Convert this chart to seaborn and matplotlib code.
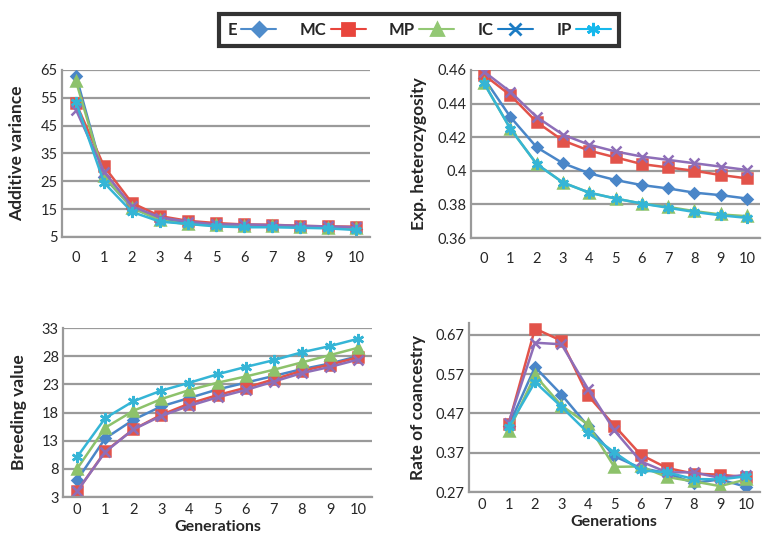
import numpy as np
import pandas as pd
import seaborn as sns
import matplotlib.pyplot as plt
from matplotlib.lines import Line2D
from matplotlib.ticker import FixedLocator, FormatStrFormatter

# --- data ---
generations = list(range(11))
series = ["E", "MC", "MP", "IC", "IP"]

add_var = {
    "E":  [63.0, 26.5, 15.5, 11.2, 10.0, 9.2, 9.0, 8.8, 8.6, 8.4, 8.0],
    "MC": [53.0, 30.4, 17.2, 12.5, 10.8, 10.0, 9.5, 9.4, 9.0, 8.8, 8.7],
    "MP": [61.0, 26.8, 15.5, 11.0, 9.5, 9.2, 9.0, 8.8, 8.6, 8.4, 8.2],
    "IC": [50.7, 28.5, 16.0, 12.0, 10.5, 9.5, 9.5, 9.3, 9.0, 8.8, 8.5],
    "IP": [53.5, 24.5, 14.0, 10.5, 9.7, 8.8, 8.5, 8.5, 8.3, 8.1, 7.5],
}

exp_het = {
    "E":  [0.455, 0.432, 0.414, 0.4045, 0.3985, 0.3945, 0.3915, 0.3895, 0.387, 0.3855, 0.3835],
    "MC": [0.457, 0.445, 0.429, 0.418, 0.412, 0.408, 0.404, 0.402, 0.400, 0.3975, 0.3955],
    "MP": [0.452, 0.425, 0.404, 0.393, 0.387, 0.3835, 0.3805, 0.3785, 0.376, 0.374, 0.373],
    "IC": [0.459, 0.447, 0.432, 0.4215, 0.4155, 0.4115, 0.4085, 0.4065, 0.4045, 0.4025, 0.4005],
    "IP": [0.452, 0.425, 0.404, 0.393, 0.387, 0.3835, 0.3805, 0.378, 0.3755, 0.3735, 0.372],
}

breeding = {
    "E":  [6.0, 13.4, 16.7, 19.1, 20.6, 22.1, 23.3, 24.5, 25.7, 26.7, 28.0],
    "MC": [4.0, 11.1, 15.0, 17.6, 19.6, 21.1, 22.4, 23.9, 25.4, 26.5, 27.8],
    "MP": [8.0, 15.3, 18.3, 20.4, 22.0, 23.3, 24.4, 25.6, 26.9, 28.2, 29.5],
    "IC": [4.0, 11.0, 15.0, 17.4, 19.2, 20.7, 22.0, 23.5, 25.0, 26.1, 27.4],
    "IP": [10.1, 17.0, 20.0, 21.9, 23.3, 24.8, 26.1, 27.3, 28.7, 29.8, 31.1],
}

# rate of coancestry starts at generation 1
coancestry = {
    "E":  [0.438, 0.588, 0.518, 0.438, 0.361, 0.331, 0.318, 0.293, 0.302, 0.283],
    "MC": [0.442, 0.686, 0.655, 0.516, 0.439, 0.365, 0.331, 0.317, 0.314, 0.308],
    "MP": [0.425, 0.567, 0.490, 0.442, 0.334, 0.335, 0.308, 0.297, 0.285, 0.302],
    "IC": [0.446, 0.650, 0.646, 0.533, 0.427, 0.348, 0.320, 0.320, 0.306, 0.314],
    "IP": [0.435, 0.550, 0.487, 0.421, 0.371, 0.325, 0.320, 0.303, 0.302, 0.310],
}

colors = {"E": "#4A86C8", "MC": "#E2534A", "MP": "#8DC26B", "IC": "#8E6EB8", "IP": "#35B5D6"}
legend_colors = {"E": "#4F8CCB", "MC": "#E8453C", "MP": "#93C874", "IC": "#1C7CC4", "IP": "#16B8EC"}
markers = {"E": "D", "MC": "s", "MP": "^", "IC": "x", "IP": (6, 2, 0)}
msizes = {"E": 5.5, "MC": 7, "MP": 6.5, "IC": 7, "IP": 8}

sns.set_style("white")
plt.rcParams["font.family"] = ["Lato", "DejaVu Sans"]

fig = plt.figure(figsize=(7.65, 5.38), dpi=100)

GRID = "#9A9A9A"

panels = [
    # data, x values, ylim, yticks, fmt, ylabel, rect, label_x, xlabel
    (add_var, generations, (5, 65), [5, 15, 25, 35, 45, 55, 65], "%g",
     "Additive variance", [0.081, 0.5595, 0.403, 0.3104], -0.12, None),
    (exp_het, generations, (0.36, 0.46), [0.36, 0.38, 0.40, 0.42, 0.44, 0.46], "%g",
     "Exp. heterozygosity", [0.6157, 0.5576, 0.3778, 0.3123], -0.152, None),
    (breeding, generations, (3, 33), [3, 8, 13, 18, 23, 28, 33], "%g",
     "Breeding value", [0.0824, 0.0762, 0.404, 0.314], -0.117, "Generations"),
    (coancestry, generations[1:], (0.27, 0.70), [0.27, 0.37, 0.47, 0.57, 0.67], "%.2f",
     "Rate of coancestry", [0.613, 0.0855, 0.380, 0.314], -0.148, "Generations"),
]

for data, xs, ylim, yticks, fmt, ylabel, rect, lx, xlabel in panels:
    ax = fig.add_axes(rect)
    for name in series:
        sns.lineplot(x=xs, y=data[name], ax=ax, color=colors[name],
                     marker=markers[name], markersize=msizes[name],
                     markeredgecolor=colors[name], markeredgewidth=1.8,
                     linewidth=1.8, legend=False)
    ax.set_xlim(-0.5, 10.5)
    ax.set_ylim(*ylim)
    ax.set_yticks(yticks)
    ax.yaxis.set_major_formatter(FormatStrFormatter(fmt))
    ax.set_xticks(generations)
    ax.xaxis.set_minor_locator(FixedLocator(np.arange(-0.5, 11, 1)))
    ax.tick_params(axis="x", which="major", length=0, pad=4 if xlabel else 10, labelsize=10.5)
    ax.tick_params(axis="x", which="minor", length=5, width=1.5, color=GRID, direction="out")
    ax.tick_params(axis="y", length=0, pad=3, labelsize=10.5)
    ax.yaxis.grid(True, color=GRID, linewidth=1.6)
    ax.set_axisbelow(True)
    for s in ["top", "right"]:
        ax.spines[s].set_visible(False)
    for s in ["left", "bottom"]:
        ax.spines[s].set_color(GRID)
        ax.spines[s].set_linewidth(1.6)
    ax.set_ylabel(ylabel, fontsize=12.5, fontweight="bold")
    ax.yaxis.set_label_coords(lx, 0.5)
    if xlabel:
        ax.set_xlabel(xlabel, fontsize=11.5, fontweight="bold")
        ax.xaxis.set_label_coords(0.5, -0.135)
    else:
        ax.set_xlabel("")

handles = [Line2D([], [], color=legend_colors[n], marker=markers[n], markersize=msizes[n] + 1.5,
                  markeredgecolor=legend_colors[n], markeredgewidth=2, linewidth=1.5)
           for n in series]
leg = fig.legend(handles, series, loc="center", bbox_to_anchor=(0.548, 0.944), ncol=5,
                 markerfirst=False, frameon=True, fancybox=False, handlelength=2.1,
                 columnspacing=1.4, handletextpad=0.25, borderpad=0.5,
                 prop={"weight": "bold", "size": 12})
leg.get_frame().set_edgecolor("black")
leg.get_frame().set_linewidth(3)

fig.savefig("out.png", dpi=100)
